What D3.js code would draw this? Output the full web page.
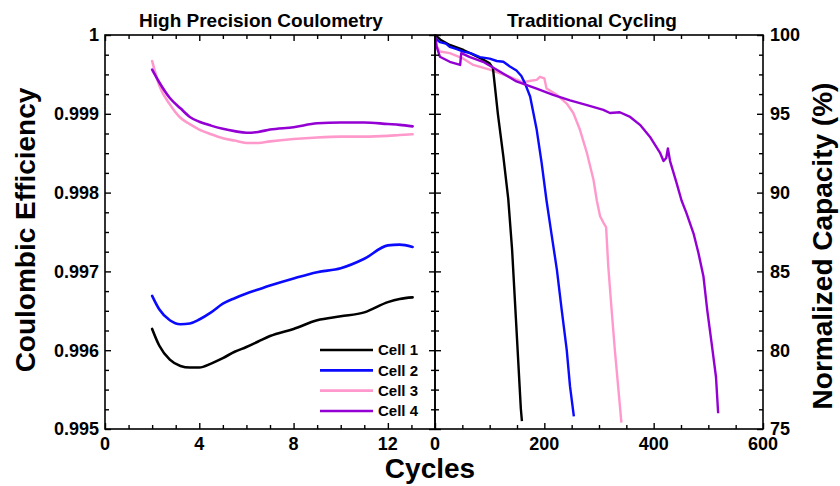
<!DOCTYPE html>
<html><head><meta charset="utf-8">
<script src="https://cdn.jsdelivr.net/npm/d3@7"></script>
<style>
html,body{margin:0;padding:0;background:#fff;}
svg{display:block;font-family:"Liberation Sans",Arial,sans-serif;font-weight:bold;}
</style></head>
<body><svg id="c" width="840" height="486"></svg>
<script>
// ---------- DATA ----------
const cellNames = ["Cell 1", "Cell 2", "Cell 3", "Cell 4"];
const cellColors = ["#000000", "#0a0aff", "#ff99cc", "#9400d3"];

// High precision coulometry (left panel)
const hpcCycles = [2.0, 2.3, 2.75, 3.2, 3.6, 4.0, 4.5, 5.0, 5.5, 6.0, 6.5, 7.0, 8.0, 9.0, 10.0, 11.0, 12.0, 12.5, 13.05];
const hpcCell1 = [0.99627, 0.99606, 0.99588, 0.99580, 0.99578, 0.99578, 0.99583, 0.99590, 0.99598, 0.99604, 0.99611, 0.99618, 0.99627, 0.99638, 0.99643, 0.99648, 0.99661, 0.99665, 0.99667];
const hpcCell2 = [0.99669, 0.99652, 0.99638, 0.99633, 0.99634, 0.99639, 0.99648, 0.99659, 0.99666, 0.99672, 0.99677, 0.99682, 0.99691, 0.99699, 0.99704, 0.99716, 0.99733, 0.99734, 0.99731];
const hpcCell3 = [0.99967, 0.99936, 0.99912, 0.99895, 0.99887, 0.99880, 0.99874, 0.99869, 0.99866, 0.99863, 0.99863, 0.99865, 0.99868, 0.99870, 0.99871, 0.99871, 0.99872, 0.99873, 0.99874];
const hpcCell4 = [0.99956, 0.99940, 0.99920, 0.99907, 0.99896, 0.99890, 0.99885, 0.99881, 0.99878, 0.99876, 0.99877, 0.99880, 0.99883, 0.99888, 0.99889, 0.99889, 0.99887, 0.99886, 0.99884];

// Traditional cycling (right panel)
const tcCycles1 = [0, 10, 27, 52, 82, 100, 106, 115, 125, 134, 141, 148, 157, 159];
const tcCap1    = [100, 99.7, 99.37, 99.05, 98.55, 98.2, 97.9, 95.0, 92.3, 89.6, 86.4, 82.0, 76.3, 75.5];
const tcCycles2 = [0, 9, 20, 27, 40, 52, 65, 82, 100, 113, 125, 137, 149, 158, 165, 174, 186, 195, 204, 213, 223, 232, 241, 247, 254];
const tcCap2    = [99.8, 99.55, 99.45, 99.25, 99.1, 98.95, 98.85, 98.6, 98.5, 98.35, 98.3, 98.0, 97.75, 97.4, 96.9, 96.1, 94.0, 91.9, 89.5, 87.4, 85.1, 82.5, 80.0, 77.7, 75.8];
const tcCycles3 = [0, 3, 9, 27, 52, 70, 100, 137, 161, 175, 186, 192, 200, 204, 223, 241, 253, 265, 278, 290, 296, 302, 308, 313, 317, 323, 329, 335, 341];
const tcCap3    = [100, 99.3, 98.95, 98.85, 98.5, 98.1, 97.8, 97.35, 97.0, 97.1, 97.15, 97.35, 97.25, 96.6, 96.2, 95.65, 95.05, 94.0, 92.5, 90.8, 89.5, 88.5, 88.1, 87.8, 85.3, 82.6, 80.0, 77.7, 75.4];
const tcCycles4 = [0, 3, 9, 27, 46, 48, 64, 88, 113, 149, 186, 216, 247, 278, 308, 320, 338, 357, 375, 393, 412, 418, 423, 426, 430, 442, 451, 460, 473, 482, 491, 498, 506, 514, 518];
const tcCap4    = [100, 99.26, 98.62, 98.3, 98.1, 98.85, 98.6, 98.3, 97.8, 97.05, 96.6, 96.2, 95.85, 95.55, 95.25, 95.05, 95.1, 94.8, 94.3, 93.55, 92.5, 92.0, 92.2, 92.8, 92.0, 90.6, 89.5, 88.7, 87.4, 86.15, 84.7, 82.55, 80.45, 78.3, 76.0];

const leftXTicks = [0, 4, 8, 12];
const leftXMinor = [1, 2, 3, 5, 6, 7, 9, 10, 11, 13];
const leftYTicks = [0.995, 0.996, 0.997, 0.998, 0.999, 1];
const leftYTickLabels = ["0.995", "0.996", "0.997", "0.998", "0.999", "1"];
const rightXTicks = [0, 200, 400, 600];
const rightYTicks = [75, 80, 85, 90, 95, 100];

const titleLeft = "High Precision Coulometry";
const titleRight = "Traditional Cycling";
const yTitleLeft = "Coulombic Efficiency";
const yTitleRight = "Normalized Capacity (%)";
const xTitle = "Cycles";

// ---------- LAYOUT ----------
const svg = d3.select("#c");
const pTop = 35, pBottom = 429;
const xL = d3.scaleLinear().domain([0, 14]).range([105, 435]);
const yL = d3.scaleLinear().domain([0.995, 1]).range([pBottom, pTop]);
const xR = d3.scaleLinear().domain([0, 600]).range([435, 763]);
const yR = d3.scaleLinear().domain([75, 100]).range([pBottom, pTop]);

function minorBetween(majors, n) {
  const out = [];
  for (let i = 0; i < majors.length - 1; i++) {
    const a = majors[i], b = majors[i + 1];
    for (let k = 1; k < n; k++) out.push(a + (b - a) * k / n);
  }
  return out;
}
const rightXMinor = minorBetween(rightXTicks, 4);
const leftYMinor = minorBetween(leftYTicks, 4);
const rightYMinor = minorBetween(rightYTicks, 4);

const MAJ = 6, MIN = 4;
function ticksGroup(gen, vals, size, pos) {
  const g = svg.append("g").attr("transform", pos)
    .call(gen.tickValues(vals).tickSize(size).tickSizeOuter(0).tickFormat(""));
  g.select(".domain").remove();
  g.selectAll("line").attr("stroke", "#000").attr("stroke-width", 1.4);
  return g;
}
function frameTicks(xs, ys, xMaj, xMin, yMaj, yMin) {
  const [x0, x1] = xs.range();
  ticksGroup(d3.axisBottom(xs), xMaj, -MAJ, `translate(0,${pBottom})`);
  ticksGroup(d3.axisBottom(xs), xMin, -MIN, `translate(0,${pBottom})`);
  ticksGroup(d3.axisTop(xs), xMaj, -MAJ, `translate(0,${pTop})`);
  ticksGroup(d3.axisTop(xs), xMin, -MIN, `translate(0,${pTop})`);
  ticksGroup(d3.axisLeft(ys), yMaj, -MAJ, `translate(${x0},0)`);
  ticksGroup(d3.axisLeft(ys), yMin, -MIN, `translate(${x0},0)`);
  ticksGroup(d3.axisRight(ys), yMaj, -MAJ, `translate(${x1},0)`);
  ticksGroup(d3.axisRight(ys), yMin, -MIN, `translate(${x1},0)`);
}

// clip paths
const defs = svg.append("defs");
defs.append("clipPath").attr("id", "clipL").append("rect")
  .attr("x", xL.range()[0]).attr("y", pTop).attr("width", xL.range()[1] - xL.range()[0]).attr("height", pBottom - pTop);
defs.append("clipPath").attr("id", "clipR").append("rect")
  .attr("x", xR.range()[0]).attr("y", pTop - 2).attr("width", xR.range()[1] - xR.range()[0]).attr("height", pBottom - pTop + 2);

// ---------- LEFT PANEL LINES ----------
const hpcSeries = [hpcCell1, hpcCell2, hpcCell3, hpcCell4];
const lineL = d3.line().x(d => xL(d[0])).y(d => yL(d[1])).curve(d3.curveMonotoneX);
const gL = svg.append("g").attr("clip-path", "url(#clipL)");
[2, 3, 0, 1].forEach(i => {
  gL.append("path").datum(hpcCycles.map((c, j) => [c, hpcSeries[i][j]]))
    .attr("d", lineL).attr("fill", "none").attr("stroke", cellColors[i])
    .attr("stroke-width", 2.6).attr("stroke-linejoin", "round").attr("stroke-linecap", "round");
});

// ---------- RIGHT PANEL LINES ----------
const tcX = [tcCycles1, tcCycles2, tcCycles3, tcCycles4];
const tcY = [tcCap1, tcCap2, tcCap3, tcCap4];
const lineR = d3.line().x(d => xR(d[0])).y(d => yR(d[1]));
const gR = svg.append("g").attr("clip-path", "url(#clipR)");
[2, 0, 1, 3].forEach(i => {
  gR.append("path").datum(tcX[i].map((c, j) => [c, tcY[i][j]]))
    .attr("d", lineR).attr("fill", "none").attr("stroke", cellColors[i])
    .attr("stroke-width", 2.4).attr("stroke-linejoin", "round");
});

// ---------- FRAMES & TICKS ----------
frameTicks(xL, yL, leftXTicks, leftXMinor, leftYTicks, leftYMinor);
frameTicks(xR, yR, rightXTicks, rightXMinor, rightYTicks, rightYMinor);
[xL, xR].forEach(xs => {
  const [x0, x1] = xs.range();
  svg.append("rect").attr("x", x0).attr("y", pTop).attr("width", x1 - x0).attr("height", pBottom - pTop)
    .attr("fill", "none").attr("stroke", "#000").attr("stroke-width", 1.6);
});

// ---------- TICK LABELS ----------
const tickFont = 18;
leftYTicks.forEach((v, i) => {
  svg.append("text").attr("x", 99).attr("y", yL(v)).attr("dy", "0.36em")
    .attr("text-anchor", "end").attr("font-size", tickFont).text(leftYTickLabels[i]);
});
rightYTicks.forEach(v => {
  svg.append("text").attr("x", 770).attr("y", yR(v)).attr("dy", "0.36em")
    .attr("text-anchor", "start").attr("font-size", tickFont).text(v);
});
leftXTicks.forEach(v => {
  svg.append("text").attr("x", xL(v)).attr("y", 450)
    .attr("text-anchor", "middle").attr("font-size", tickFont).text(v);
});
rightXTicks.forEach(v => {
  svg.append("text").attr("x", xR(v)).attr("y", 450)
    .attr("text-anchor", "middle").attr("font-size", tickFont).text(v);
});

// ---------- TITLES ----------
svg.append("text").attr("x", 261).attr("y", 27).attr("text-anchor", "middle").attr("font-size", 19).text(titleLeft);
svg.append("text").attr("x", 592).attr("y", 27).attr("text-anchor", "middle").attr("font-size", 19).text(titleRight);
svg.append("text").attr("transform", "translate(35,230) rotate(-90)").attr("text-anchor", "middle").attr("font-size", 28).text(yTitleLeft);
svg.append("text").attr("transform", "translate(832,246) rotate(-90)").attr("text-anchor", "middle").attr("font-size", 28).text(yTitleRight);
svg.append("text").attr("x", 430).attr("y", 478).attr("text-anchor", "middle").attr("font-size", 28).text(xTitle);

// ---------- LEGEND ----------
const legendY = d3.scalePoint().domain(cellNames).range([350, 411]);
cellNames.forEach((name, i) => {
  const y = legendY(name);
  svg.append("line").attr("x1", 320).attr("x2", 373).attr("y1", y).attr("y2", y)
    .attr("stroke", cellColors[i]).attr("stroke-width", 2.6);
  svg.append("text").attr("x", 378).attr("y", y).attr("dy", "0.36em").attr("font-size", 15).text(name);
});
</script></body></html>
